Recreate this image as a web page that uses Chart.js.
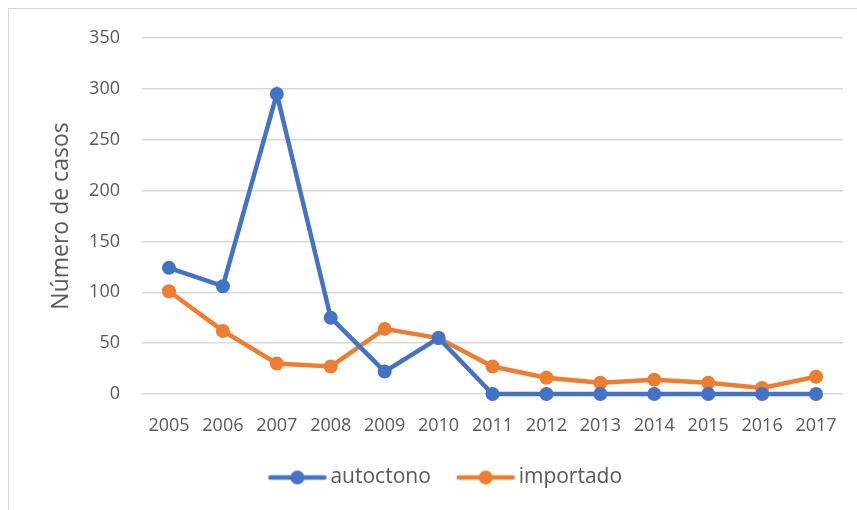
<!DOCTYPE html>
<html>
<head>
<meta charset="utf-8">
<script src="https://cdn.jsdelivr.net/npm/chart.js@4/dist/chart.umd.min.js"></script>
<style>
  body { margin: 0; background: #fff; }
  #wrap { position: relative; width: 857px; height: 510px; }
  #frame { position: absolute; left: 8px; top: 8px; right: -2px; bottom: -2px; border-left: 1px solid #d9d9d9; border-top: 1px solid #d9d9d9; }
  canvas { position: absolute; left: 0; top: 0; }
</style>
</head>
<body>
<div id="wrap">
  <div id="frame"></div>
  <canvas id="chart" width="857" height="510"></canvas>
</div>
<script>
const years = ['2005', '2006', '2007', '2008', '2009', '2010', '2011', '2012', '2013', '2014', '2015', '2016', '2017'];
const autoctono = [124, 106, 295, 75, 22, 55, 0, 0, 0, 0, 0, 0, 0];
const importado = [101, 62, 30, 27, 64, 55, 27, 16, 11, 14, 11, 6, 17];

const blue = '#4472C4';
const orange = '#ED7D31';
const textColor = '#595959';
const font = "'Open Sans', sans-serif";

// legend sample: line with a dot, drawn into a small canvas
const legendIcon = (color) => {
    const c = document.createElement('canvas');
    c.width = 66;
    c.height = 16;
    const g = c.getContext('2d');
    g.strokeStyle = color;
    g.lineWidth = 4.5;
    g.lineCap = 'round';
    g.beginPath();
    g.moveTo(9, 8);
    g.lineTo(63, 8);
    g.stroke();
    g.fillStyle = color;
    g.beginPath();
    g.arc(36, 8, 7, 0, Math.PI * 2);
    g.fill();
    return c;
};

const icons = [legendIcon(blue), legendIcon(orange)];
// extra room after the first entry, like the gap in the original legend
const legendText = ['autoctono   ', 'importado'];

const data = {
    labels: years,
    datasets: [{
        label: 'autoctono',
        data: autoctono,
        borderColor: blue,
        backgroundColor: blue,
        borderWidth: 4.5,
        pointRadius: 7,
        pointHoverRadius: 7,
        pointBorderWidth: 0,
        tension: 0,
        clip: false
    }, {
        label: 'importado',
        data: importado,
        borderColor: orange,
        backgroundColor: orange,
        borderWidth: 4.5,
        pointRadius: 7,
        pointHoverRadius: 7,
        pointBorderWidth: 0,
        tension: 0,
        clip: false
    }]
};

const options = {
    responsive: false,
    animation: false,
    layout: {
        padding: { left: 48, right: 14, top: 38, bottom: 12 }
    },
    scales: {
        x: {
            offset: true,
            grid: { display: false },
            border: { display: false },
            ticks: {
                color: textColor,
                font: { family: font, size: 18 },
                padding: 13,
                maxRotation: 0,
                autoSkip: false
            },
            afterFit: (s) => { s.height = 63; }
        },
        y: {
            min: 0,
            max: 350,
            grid: { color: '#d9d9d9', lineWidth: 1.5, drawTicks: false },
            border: { display: false },
            ticks: {
                stepSize: 50,
                color: textColor,
                font: { family: font, size: 18 },
                padding: 22
            },
            title: {
                display: true,
                text: 'Número de casos',
                color: textColor,
                font: { family: font, size: 23 },
                padding: { top: 0, bottom: 0 }
            },
            afterFit: (s) => { s.width = 94; }
        }
    },
    plugins: {
        legend: {
            position: 'bottom',
            labels: {
                usePointStyle: true,
                pointStyleWidth: 51,
                boxHeight: 16,
                color: textColor,
                font: { family: font, size: 21 },
                padding: 10,
                generateLabels: (chart) => chart.data.datasets.map((ds, i) => ({
                    text: legendText[i],
                    pointStyle: icons[i],
                    fillStyle: ds.borderColor,
                    strokeStyle: ds.borderColor,
                    fontColor: textColor,
                    lineWidth: 0,
                    datasetIndex: i
                }))
            }
        },
        tooltip: { enabled: false }
    }
};

const ctx = document.getElementById('chart').getContext('2d');
new Chart(ctx, { type: 'line', data: data, options: options });
</script>
</body>
</html>
